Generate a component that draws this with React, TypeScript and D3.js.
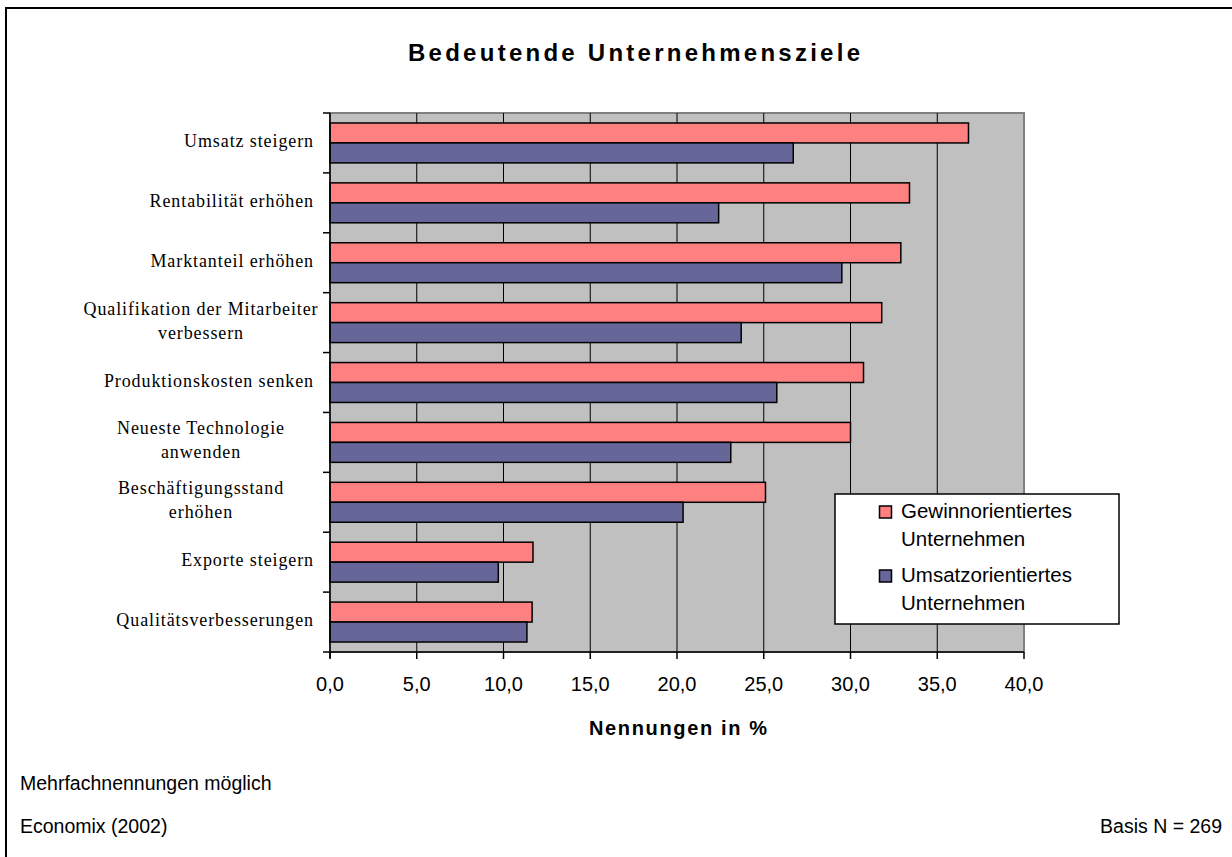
import React from 'react';
import * as d3 from 'd3';

const categories = [
  'Umsatz steigern',
  'Rentabilität erhöhen',
  'Marktanteil erhöhen',
  'Qualifikation der Mitarbeiter\nverbessern',
  'Produktionskosten senken',
  'Neueste Technologie\nanwenden',
  'Beschäftigungsstand\nerhöhen',
  'Exporte steigern',
  'Qualitätsverbesserungen',
];
const gewinnValues = [36.8, 33.4, 32.9, 31.8, 30.75, 30.0, 25.1, 11.7, 11.65];
const umsatzValues = [26.7, 22.4, 29.5, 23.7, 25.75, 23.1, 20.35, 9.7, 11.35];
const seriesNames = ['Gewinnorientiertes\nUnternehmen', 'Umsatzorientiertes\nUnternehmen'];
const seriesKeys = ['gewinn', 'umsatz'];
const xTicks = [0, 5, 10, 15, 20, 25, 30, 35, 40];

const colors = { gewinn: '#FF8080', umsatz: '#666699' };

const de = d3.formatLocale({ decimal: ',', thousands: '.', grouping: [3], currency: ['', ' €'] });
const fmt = de.format('.1f');

const App = () => {
  const W = 1232, H = 857;
  const plot = { left: 330, right: 1024, top: 113, bottom: 652 };

  const x = d3.scaleLinear().domain([0, 40]).range([plot.left, plot.right]);
  const y = d3.scaleBand().domain(categories).range([plot.top, plot.bottom]);
  const inner = d3.scaleBand().domain(seriesKeys).range([0, y.bandwidth()]).paddingOuter(0.5);

  const rows = categories.map((c, i) => ({ cat: c, gewinn: gewinnValues[i], umsatz: umsatzValues[i] }));
  const sans = '"Liberation Sans", Arial, sans-serif';
  const serif = '"Liberation Serif", "Times New Roman", serif';

  return (
    <svg width={W} height={H} style={{ position: 'absolute', left: 0, top: 0, background: '#fff' }}>
      {/* frame */}
      <path d={`M6,${H} V8 H${W}`} fill="none" stroke="#000" strokeWidth={2} />

      <text x={634} y={61} textAnchor="middle" fontFamily={sans} fontWeight="bold" fontSize={24}
        textLength={452} lengthAdjust="spacing">Bedeutende Unternehmensziele</text>

      {/* plot area */}
      <rect x={plot.left} y={plot.top} width={plot.right - plot.left} height={plot.bottom - plot.top}
        fill="#C0C0C0" stroke="#808080" strokeWidth={2} />
      {xTicks.slice(1, -1).map(t => (
        <line key={t} x1={x(t)} x2={x(t)} y1={plot.top} y2={plot.bottom} stroke="#000" strokeWidth={1} />
      ))}

      {/* bars */}
      {rows.map(r => (
        <g key={r.cat} transform={`translate(0,${y(r.cat)})`}>
          {seriesKeys.map(k => (
            <rect key={k} x={x(0)} y={inner(k)} width={x(r[k]) - x(0)} height={inner.bandwidth()}
              fill={colors[k]} stroke="#000" strokeWidth={1.5} />
          ))}
        </g>
      ))}

      {/* y axis */}
      <line x1={plot.left} x2={plot.left} y1={plot.top} y2={plot.bottom + 6} stroke="#000" strokeWidth={1.5} />
      {categories.map((c, i) => (
        <line key={'yt' + i} x1={plot.left - 7} x2={plot.left} y1={y(c)} y2={y(c)} stroke="#000" strokeWidth={1.5} />
      ))}
      <line x1={plot.left - 7} x2={plot.left} y1={plot.bottom} y2={plot.bottom} stroke="#000" strokeWidth={1.5} />
      {categories.map(c => {
        const lines = c.split('\n');
        const cy = y(c) + y.bandwidth() / 2 + 4;
        const multi = lines.length > 1;
        return (
          <text key={'yl' + c} fontFamily={serif} fontSize={18} letterSpacing={0.9}
            textAnchor={multi ? 'middle' : 'end'} fill="#000">
            {lines.map((l, j) => (
              <tspan key={j} x={multi ? 201 : 314} y={cy + (j - (lines.length - 1) / 2) * 24}>{l}</tspan>
            ))}
          </text>
        );
      })}

      {/* x axis */}
      <line x1={plot.left} x2={plot.right} y1={plot.bottom} y2={plot.bottom} stroke="#000" strokeWidth={1.5} />
      {xTicks.map(t => (
        <g key={'xt' + t}>
          <line x1={x(t)} x2={x(t)} y1={plot.bottom} y2={plot.bottom + 7} stroke="#000" strokeWidth={1.5} />
          <text x={x(t)} y={691} textAnchor="middle" fontFamily={sans} fontSize={20}>{fmt(t)}</text>
        </g>
      ))}
      <text x={678} y={735} textAnchor="middle" fontFamily={sans} fontWeight="bold" fontSize={20}
        textLength={178} lengthAdjust="spacing">Nennungen in %</text>

      {/* legend */}
      <rect x={835} y={494} width={284} height={130} fill="#fff" stroke="#000" strokeWidth={1.5} />
      {seriesKeys.map((k, i) => (
        <g key={'lg' + k} transform={`translate(0,${i * 64})`}>
          <rect x={879.5} y={506} width={12} height={12} fill={colors[k]} stroke="#000" strokeWidth={1.5} />
          <text fontFamily={sans} fontSize={20.5}>
            {seriesNames[i].split('\n').map((l, j) => (
              <tspan key={j} x={901} y={518 + j * 28}>{l}</tspan>
            ))}
          </text>
        </g>
      ))}

      {/* notes */}
      <text x={20} y={790} fontFamily={sans} fontSize={19.5}>Mehrfachnennungen möglich</text>
      <text x={20} y={833} fontFamily={sans} fontSize={19.5}>Economix (2002)</text>
      <text x={1222} y={833} textAnchor="end" fontFamily={sans} fontSize={19.5}>Basis N = 269</text>
    </svg>
  );
};

export default App;
